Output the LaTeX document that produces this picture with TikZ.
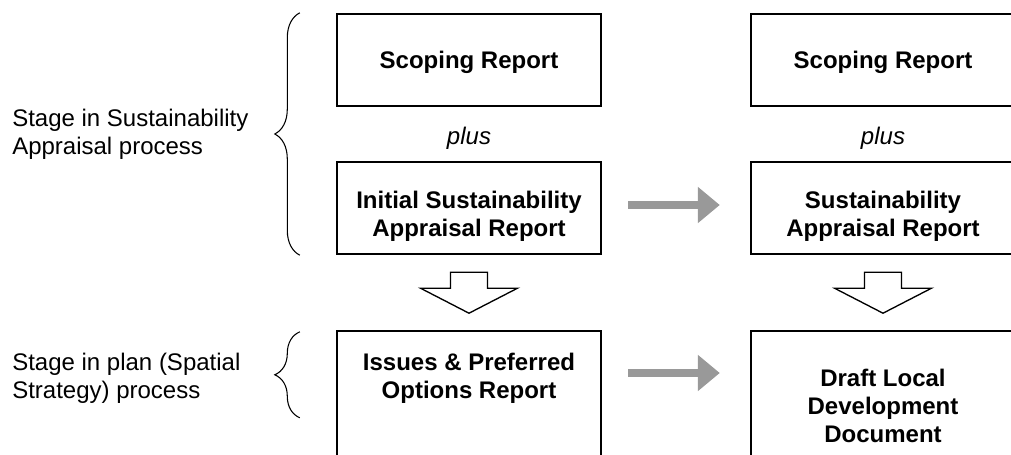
\documentclass[tikz,border=0pt]{standalone}
\usepackage{fontspec}
\setmainfont{Liberation Sans}
\usetikzlibrary{arrows.meta,calc,decorations.pathreplacing}
\definecolor{arrowgray}{HTML}{999999}
\tikzset{
    stagebox/.style={draw,line width=1.8pt,minimum width=198pt,inner sep=0pt},
    boxtext/.style={font=\fontsize{18}{21}\selectfont\bfseries,align=center,inner sep=0pt},
    sidetext/.style={font=\fontsize{18}{21}\selectfont,align=left,anchor=west,inner sep=0pt},
    plustext/.style={font=\fontsize{18}{21}\selectfont\itshape,inner sep=0pt},
    grayarrow/.style={draw=arrowgray,line width=6pt,-{Triangle[length=16.5pt,width=26.25pt]}},
    hollowarrow/.style={draw,line width=1pt,line join=miter,fill=white},
    stagebrace/.style={decorate,decoration={brace,amplitude=18.75pt},line width=0.8pt}
}
\begin{document}
\begin{tikzpicture}[x=0.75pt,y=-0.75pt]
        \useasboundingbox (0,0) rectangle (1011,454);
        \clip (0,0) rectangle (1011,454);

        \node[stagebox,minimum height=69pt] (scopL) at (469,60) {};
        \node[stagebox,minimum height=69pt] (initL) at (469,208) {};
        \node[stagebox,minimum height=105pt] (issL) at (469,401) {};
        \node[stagebox,minimum height=69pt] (scopR) at (883,60) {};
        \node[stagebox,minimum height=69pt] (sarR) at (883,208) {};
        \node[stagebox,minimum height=105pt] (draftR) at (883,401) {};

        \node[boxtext] (scopLtxt) at (469,62) {Scoping Report};
        \node[boxtext] (initLtxt) at (469,216) {Initial Sustainability\\Appraisal Report};
        \node[boxtext] (issLtxt) at (469,378.5) {Issues \& Preferred\\Options Report};
        \node[boxtext] (scopRtxt) at (883,62) {Scoping Report};
        \node[boxtext] (sarRtxt) at (883,216) {Sustainability\\Appraisal Report};
        \node[boxtext] (draftRtxt) at (883,406) {Draft Local\\Development\\Document};

        \node[plustext] (plusL) at (469,138) {plus};
        \node[plustext] (plusR) at (883,138) {plus};

        \node[sidetext] (saside) at (12,134) {Stage in Sustainability\\Appraisal process};
        \node[sidetext] (planside) at (12,378.5) {Stage in plan (Spatial\\Strategy) process};

        \draw[stagebrace] ([xshift=-27pt]initL.south west) -- ([xshift=-27pt]scopL.north west);
        \draw[stagebrace] ([xshift=-27pt,yshift=-66pt]issL.north west) -- ([xshift=-27pt,yshift=-1.5pt]issL.north west);

        \draw[grayarrow] ([xshift=19.5pt,yshift=2.25pt]initL.east) -- ([xshift=-22.5pt,yshift=2.25pt]sarR.west);
        \draw[grayarrow] ([xshift=19.5pt,yshift=21pt]issL.east) -- ([xshift=-22.5pt,yshift=21pt]draftR.west);

        \draw[hollowarrow] (initL.south) ++(-18.5,17) -- ++(37,0) -- ++(0,16) -- ++(30,0)
            -- ++(-48.5,25) -- ++(-48.5,-25) -- ++(30,0) -- cycle;
        \draw[hollowarrow] (sarR.south) ++(-18.5,17) -- ++(37,0) -- ++(0,16) -- ++(30,0)
            -- ++(-48.5,25) -- ++(-48.5,-25) -- ++(30,0) -- cycle;
    \end{tikzpicture}
\end{document}
